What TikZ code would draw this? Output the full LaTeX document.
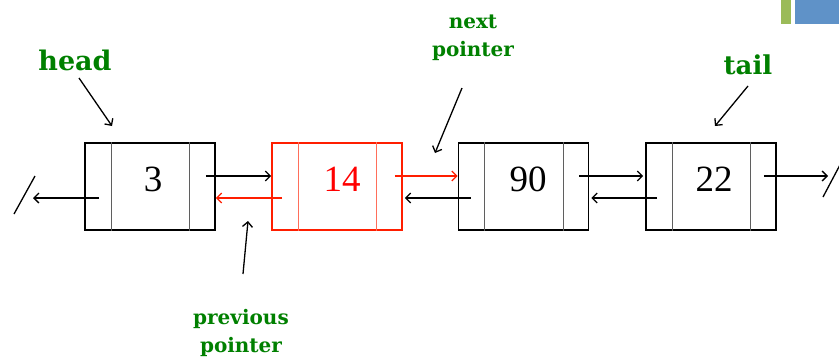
\documentclass[tikz,border=0pt]{standalone}
\usepackage{fontspec}
\setmainfont{Liberation Serif}
\newfontfamily\labelfont{DejaVu Serif}
\usetikzlibrary{arrows.meta,calc}
\definecolor{labelgreen}{RGB}{0,128,0}
\definecolor{hilite}{RGB}{255,30,0}
\definecolor{hilitesoft}{RGB}{255,110,90}
\definecolor{divgray}{RGB}{95,95,95}
\definecolor{barGreen}{RGB}{155,187,89}
\definecolor{barBlue}{RGB}{95,146,200}
\tikzset{
  cell/.style={draw, line width=1.6pt, minimum width=130pt, minimum height=87pt, inner sep=0pt},
  divider/.style={line width=0.9pt, draw=divgray},
  value/.style={font=\fontsize{37}{37}\selectfont, inner sep=0pt},
  ptr/.style={line width=1.3pt, -{Straight Barb[length=5pt,width=10pt,line width=1.3pt]}},
  tag/.style={text=labelgreen, align=center, inner sep=0pt},
}
\begin{document}
\begin{tikzpicture}[x=1pt,y=-1pt]
\useasboundingbox (0,0) rectangle (839,362);

% corner bars
\fill[barGreen] (781,0) rectangle (791,24);
\fill[barBlue] (795,0) rectangle (839,24);

% list nodes
\node[cell] (n1) at (150,186.5) {};
\node[cell, draw=hilite] (n2) at (337,186.5) {};
\node[cell] (n3) at (523.5,186.5) {};
\node[cell] (n4) at (711,186.5) {};

% cell dividers
\foreach \nd in {n1,n3,n4}{
  \draw[divider] ([xshift=27pt]\nd.north west) -- ([xshift=27pt]\nd.south west);
  \draw[divider] ([xshift=-26pt]\nd.north east) -- ([xshift=-26pt]\nd.south east);
}
\draw[divider, draw=hilitesoft] ([xshift=27pt]n2.north west) -- ([xshift=27pt]n2.south west);
\draw[divider, draw=hilitesoft] ([xshift=-26pt]n2.north east) -- ([xshift=-26pt]n2.south east);

% stored values
\node[value] (v1) at (153,179) {3};
\node[value, text=red] (v2) at (342,179) {14};
\node[value] (v3) at (528,179) {90};
\node[value] (v4) at (714,179) {22};

% null ends
\coordinate (nullL) at (33,198);
\coordinate (nullR) at (828,176);
\draw[line width=1.3pt] (14,214) -- (35,176);
\draw[line width=1.3pt] (823,197) -- (841,163);

% next links
\draw[ptr] ([xshift=-10pt,yshift=10.5pt]n1.east) -- ([yshift=10.5pt]n2.west);
\draw[ptr, draw=hilite] ([xshift=-8pt,yshift=10.5pt]n2.east) -- ([yshift=10.5pt]n3.west);
\draw[ptr] ([xshift=-10pt,yshift=10.5pt]n3.east) -- ([xshift=-2pt,yshift=10.5pt]n4.west);
\draw[ptr] ([xshift=-13pt,yshift=10.5pt]n4.east) -- (nullR);

% previous links
\draw[ptr] ([xshift=15pt,yshift=-11.5pt]n1.west) -- (nullL);
\draw[ptr, draw=hilite] ([xshift=11pt,yshift=-11.5pt]n2.west) -- ([yshift=-11.5pt]n1.east);
\draw[ptr] ([xshift=13pt,yshift=-11.5pt]n3.west) -- ([xshift=2pt,yshift=-11.5pt]n2.east);
\draw[ptr] ([xshift=12pt,yshift=-11.5pt]n4.west) -- ([xshift=2pt,yshift=-11.5pt]n3.east);

% labels
\node[tag, font=\labelfont\bfseries\fontsize{27}{27}\selectfont] (head) at (75,60) {head};
\node[tag, font=\labelfont\bfseries\fontsize{26}{26}\selectfont] (tail) at (748,65) {tail};
\node[tag, font=\labelfont\bfseries\fontsize{20}{28}\selectfont] (nextp) at (473,38) {next\\pointer};
\node[tag, font=\labelfont\bfseries\fontsize{20}{28}\selectfont] (prevp) at (241,333) {previous\\pointer};

% label pointers
\coordinate (headEnd) at (112,126);
\coordinate (tailEnd) at (715,126);
\coordinate (nextEnd) at (435,153);
\coordinate (prevEnd) at (248,221);
\draw[ptr] (79,78) -- (headEnd);
\draw[ptr] (748,86) -- (tailEnd);
\draw[ptr] (462,88) -- (nextEnd);
\draw[ptr] (243,274) -- (prevEnd);
\end{tikzpicture}
\end{document}
